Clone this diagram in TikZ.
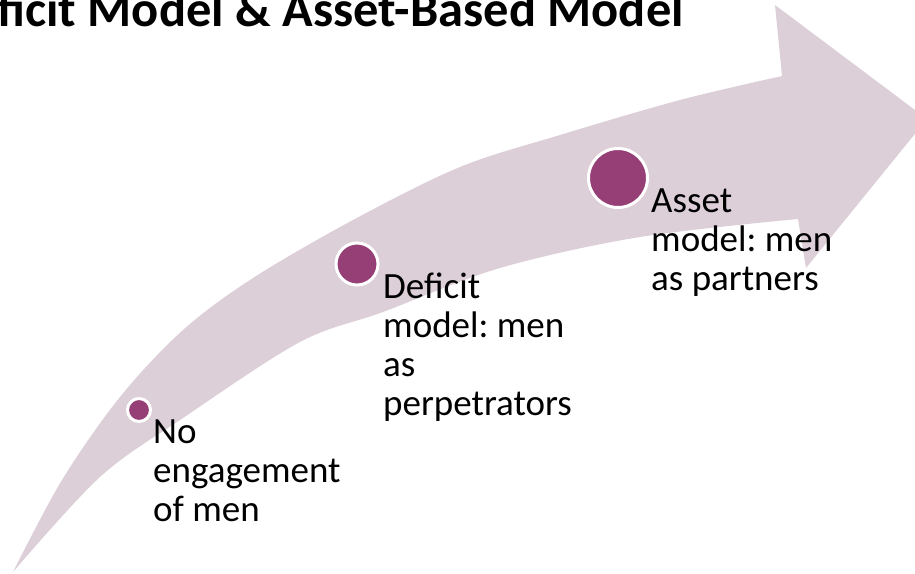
\documentclass[tikz,border=0pt]{standalone}
\usepackage{fontspec}
\setmainfont{Carlito}
\frenchspacing
\usetikzlibrary{positioning}
\definecolor{mauvelight}{HTML}{DCCFD7}
\definecolor{plum}{HTML}{953F76}
\tikzset{
	stepdot/.style={
			circle,
			draw=white,
			line width=3pt,
			fill=plum,
			inner sep=0pt
		},
	steplabel/.style={
			anchor=base west,
			align=left,
			inner sep=0pt,
			font=\fontsize{37}{39}\selectfont
		},
	titlelabel/.style={
			anchor=base east,
			inner sep=0pt,
			font=\fontsize{50.5}{52}\selectfont\bfseries
		}
}
\begin{document}
\begin{tikzpicture}[x=1pt, y=-1pt]
\useasboundingbox (0,0) rectangle (915,573);

% curved arrow
\fill[mauvelight] plot[smooth, tension=0.55] coordinates {(13,572) (62,480) (120,397) (183,330) (253,278) (353,220) (460,167) (560,135) (680,100) (782,76)}
  -- (775,5) -- (927,119) -- (806,268) -- (798,219)
  -- plot[smooth, tension=0.55] coordinates {(798,219) (640,237) (500,268) (383,312) (300,342) (183,418) (100,477) (13,572)}
  -- cycle;

\node[titlelabel] (title) at (684,26) {Deficit Model \& Asset-Based Model};

\node[stepdot, minimum size=23pt] (n1) at (139,410) {};
\node[stepdot, minimum size=42pt] (n2) at (357,264) {};
\node[stepdot, minimum size=59pt] (n3) at (618,178) {};

% base anchor sits on the last line
\node[steplabel] (t1) at (153,521) {No\\engagement\\of men};
\node[steplabel] (t2) at (383,415) {Deficit\\model: men\\as\\perpetrators};
\node[steplabel] (t3) at (651,290) {Asset\\model: men\\as partners};

\end{tikzpicture}
\end{document}
